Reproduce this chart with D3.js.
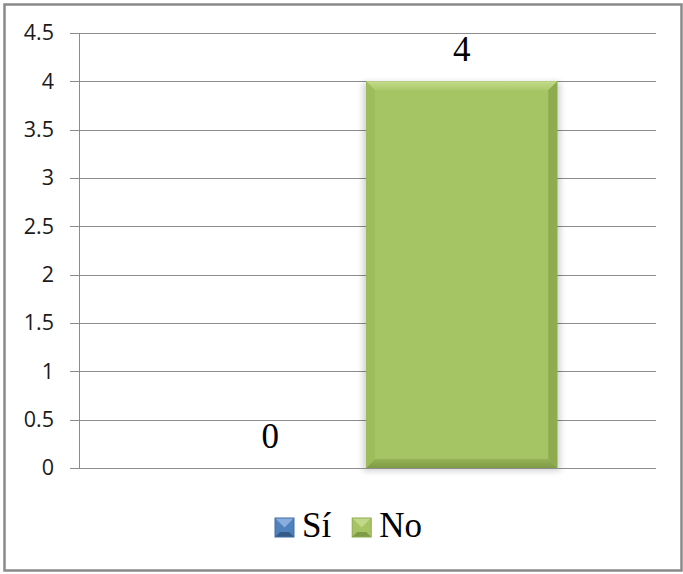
<!DOCTYPE html>
<html>
<head>
<meta charset="utf-8">
<script src="https://cdnjs.cloudflare.com/ajax/libs/d3/7.8.5/d3.min.js"></script>
<style>
  html, body { margin: 0; padding: 0; background: #fff; }
  svg { display: block; }
</style>
</head>
<body>
<svg id="chart" width="683" height="574"></svg>
<script>
// Chart data
const seriesNames = ["Sí", "No"];
const seriesValues = [0, 4];
const tickValues = [0, 0.5, 1, 1.5, 2, 2.5, 3, 3.5, 4, 4.5];

// Face colours for the bevelled bars, one set per series
const palette = {
  "Sí": { main: "#4f81bd", top: ["#8fb3e0", "#5a8cc8"], bottom: ["#41699c", "#355a88"], left: "#4677b2", right: "#3f6ea6" },
  "No": { main: "#a5c463", top: ["#c3db8c", "#abc969"], bottom: ["#95b257", "#7e9b45"], left: "#9dbc5b", right: "#8eab4f" }
};

const W = 683, H = 574;
const plot = { left: 79, right: 653, top: 33, bottom: 468 };

const svg = d3.select("#chart");
const defs = svg.append("defs");

// vertical gradients for top/bottom bevel faces
seriesNames.forEach((s, i) => {
  ["top", "bottom"].forEach(face => {
    const g = defs.append("linearGradient")
      .attr("id", `g-${face}-${i}`).attr("x1", 0).attr("y1", 0).attr("x2", 0).attr("y2", 1);
    g.append("stop").attr("offset", "0%").attr("stop-color", palette[s][face][0]);
    g.append("stop").attr("offset", "100%").attr("stop-color", palette[s][face][1]);
  });
});
defs.append("filter").attr("id", "soft").attr("x", "-10%").attr("y", "-10%").attr("width", "120%").attr("height", "120%")
  .append("feGaussianBlur").attr("stdDeviation", 3);

// outer frame
svg.append("rect")
  .attr("x", 4.5).attr("y", 4.5).attr("width", 677).attr("height", 566)
  .attr("fill", "#fff").attr("stroke", "#8a8a8a").attr("stroke-width", 2.5);

const y = d3.scaleLinear().domain([0, 4.5]).range([plot.bottom, plot.top]);
const x = d3.scaleBand().domain(seriesNames).range([plot.left, plot.right])
  .paddingInner(0).paddingOuter(0.5);

// gridlines with tick marks extending left of the axis
const yAxis = d3.axisLeft(y).tickValues(tickValues).tickFormat(d3.format("")).tickSizeInner(-(656 - plot.left)).tickSizeOuter(0).tickPadding(16);
const gy = svg.append("g").attr("transform", `translate(${plot.left},0)`).call(yAxis);
gy.select(".domain").remove();
gy.selectAll(".tick line").attr("stroke", "#8c8c8c").attr("x1", -9).attr("shape-rendering", "crispEdges");
gy.selectAll(".tick text")
  .attr("font-family", "'Open Sans', sans-serif").attr("font-size", 21.5).attr("fill", "#1a1a1a")
  .attr("x", -25);

// vertical axis line
svg.append("line")
  .attr("x1", plot.left + 0.5).attr("x2", plot.left + 0.5)
  .attr("y1", y(4.5)).attr("y2", y(0))
  .attr("stroke", "#8c8c8c");

// bars
const bars = svg.append("g");
seriesNames.forEach((s, i) => {
  const v = seriesValues[i];
  const x0 = x(s), w = x.bandwidth();
  const y0 = y(v), h = y(0) - y(v);
  if (h <= 0) return;
  const c = palette[s];
  const b = Math.min(9, h / 2);
  const g = bars.append("g");
  g.append("rect").attr("x", x0 - 3).attr("y", y0 + 1).attr("width", w + 6).attr("height", h + 2)
    .attr("fill", "#000").attr("opacity", 0.18).attr("filter", "url(#soft)");
  g.append("rect").attr("x", x0).attr("y", y0).attr("width", w).attr("height", h).attr("fill", c.main);
  const poly = pts => pts.map(p => p.join(",")).join(" ");
  g.append("polygon").attr("points", poly([[x0, y0], [x0 + w, y0], [x0 + w - b, y0 + b], [x0 + b, y0 + b]]))
    .attr("fill", `url(#g-top-${i})`);
  g.append("polygon").attr("points", poly([[x0, y0 + h], [x0 + w, y0 + h], [x0 + w - b, y0 + h - b], [x0 + b, y0 + h - b]]))
    .attr("fill", `url(#g-bottom-${i})`);
  g.append("polygon").attr("points", poly([[x0, y0], [x0 + b, y0 + b], [x0 + b, y0 + h - b], [x0, y0 + h]]))
    .attr("fill", c.left);
  g.append("polygon").attr("points", poly([[x0 + w, y0], [x0 + w - b, y0 + b], [x0 + w - b, y0 + h - b], [x0 + w, y0 + h]]))
    .attr("fill", c.right);
});

// x axis baseline
svg.append("line")
  .attr("x1", plot.left - 9).attr("x2", 656)
  .attr("y1", y(0) + 0.5).attr("y2", y(0) + 0.5)
  .attr("stroke", "#8c8c8c");

// value labels
svg.append("g").selectAll("text").data(seriesNames).join("text")
  .attr("x", d => x(d) + x.bandwidth() / 2)
  .attr("y", (d, i) => y(seriesValues[i]) - 20)
  .attr("text-anchor", "middle")
  .attr("font-family", "'Liberation Serif', 'Times New Roman', serif")
  .attr("font-size", 35).attr("fill", "#000")
  .text((d, i) => seriesValues[i]);

// legend
const legend = svg.append("g").attr("transform", "translate(275,518)");
let lx = 0;
seriesNames.forEach((s, i) => {
  const c = palette[s];
  const item = legend.append("g").attr("transform", `translate(${lx},0)`);
  const m = 19, bb = 5;
  item.append("rect").attr("width", m).attr("height", m).attr("fill", c.main);
  item.append("polygon").attr("points", `0,0 ${m},0 ${m / 2},${m / 2}`).attr("fill", c.top[0]).attr("opacity", 0.9);
  item.append("polygon").attr("points", `${bb},${m - bb} ${m - bb},${m - bb} ${m},${m} 0,${m}`).attr("fill", c.bottom[1]);
  item.append("rect").attr("width", m).attr("height", m).attr("fill", "none").attr("stroke", c.right).attr("stroke-width", 1);
  const t = item.append("text").attr("x", m + 8).attr("y", m)
    .attr("font-family", "'Liberation Serif', 'Times New Roman', serif")
    .attr("font-size", 35).attr("fill", "#000").text(s);
  lx += m + 8 + t.node().getComputedTextLength() + 21;
});
</script>
</body>
</html>
